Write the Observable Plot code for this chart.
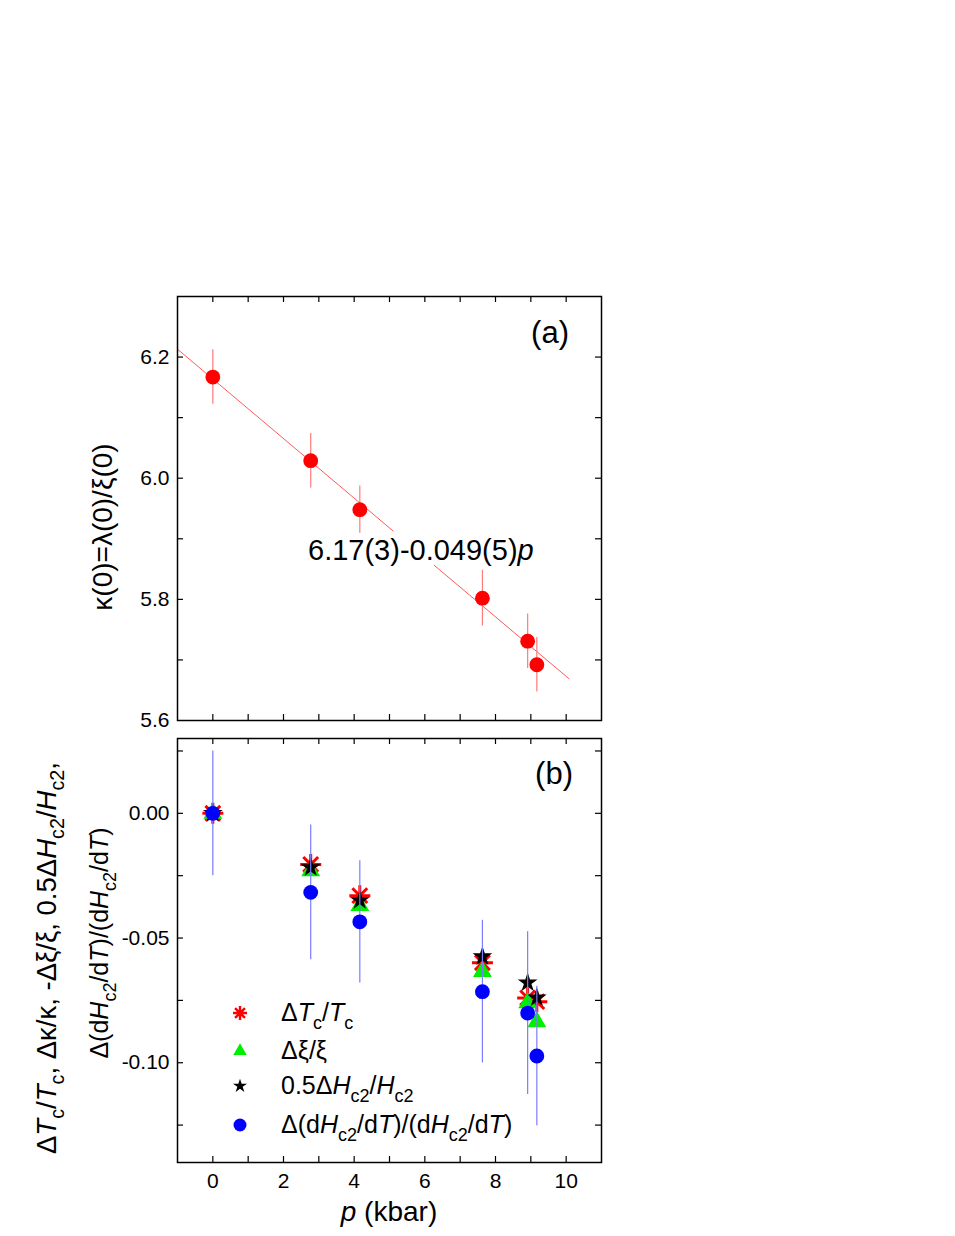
<!DOCTYPE html>
<html><head><meta charset="utf-8">
<script src="https://cdn.jsdelivr.net/npm/d3@7"></script>
<script src="https://cdn.jsdelivr.net/npm/@observablehq/plot@0.6"></script>
<style>
body{margin:0;background:#fff;}
#wrap{position:relative;width:955px;height:1236px;background:#fff;}
#wrap svg{position:absolute;left:0;}
</style></head><body><div id="wrap"></div>
<script>
// ---------- data ----------
const pressure = [0, 2.77, 4.16, 7.63, 8.91, 9.17];
// panel (a)
const kappa = [6.167, 6.029, 5.948, 5.802, 5.731, 5.692];
const kappaErr = [0.045, 0.045, 0.039, 0.046, 0.045, 0.045];
const fitSegment1P = [-1, 5.1];
const fitSegment1K = [6.213, 5.913];
const fitSegment2P = [6.27, 10.08];
const fitSegment2K = [5.856, 5.669];
// panel (b)
const dTcTc = [0, -0.0205, -0.0330, -0.0599, -0.0740, -0.0755];
const dXiXi = [0, -0.0230, -0.0370, -0.0634, -0.0760, -0.0836];
const halfdHc2 = [0, -0.0217, -0.0349, -0.0574, -0.0679, -0.0739];
const dSlope = [0, -0.0317, -0.0435, -0.0715, -0.0801, -0.0973];
const dSlopeErr = [0.025, 0.027, 0.0245, 0.0286, 0.0326, 0.028];
// ticks
const xMinorTicks = [0,1,2,3,4,5,6,7,8,9,10];
const xTickLabels = [0,2,4,6,8,10];
const yTicksA = [5.7,5.8,5.9,6.0,6.1,6.2];
const yTickLabelsA = [5.6,5.8,6.0,6.2];
const yTicksB = [0.025,0,-0.025,-0.05,-0.075,-0.1,-0.125];
const yTickLabelsB = [0,-0.05,-0.1];

// ---------- helpers ----------
const FONT = '"Liberation Sans", Arial, Helvetica, sans-serif';
const FW = 424, TICK = 6, IN = FW - TICK;
const asterisk8 = {
  draw(ctx, size) {
    const r = Math.sqrt(size / Math.PI);
    const d = r * Math.SQRT1_2;
    ctx.moveTo(-r, 0); ctx.lineTo(r, 0);
    ctx.moveTo(0, -r); ctx.lineTo(0, r);
    ctx.moveTo(-d, -d); ctx.lineTo(d, d);
    ctx.moveTo(-d, d); ctx.lineTo(d, -d);
  }
};
function frameTicks(xt, yt) {
  return [
    Plot.tickX(xt, {x: d => d, insetTop: IN, stroke: "black", strokeWidth: 1.2}),
    Plot.tickX(xt, {x: d => d, insetBottom: IN, stroke: "black", strokeWidth: 1.2}),
    Plot.tickY(yt, {y: d => d, insetRight: IN, stroke: "black", strokeWidth: 1.2}),
    Plot.tickY(yt, {y: d => d, insetLeft: IN, stroke: "black", strokeWidth: 1.2}),
    Plot.frame({stroke: "black", strokeWidth: 1.5})
  ];
}
function rich(sel, parts, {x, y, anchor = "start", size = 24, rotate = 0}) {
  const g = sel.append("g").attr("transform", `translate(${x},${y}) rotate(${rotate})`);
  const t = g.append("text").attr("text-anchor", anchor).attr("font-size", size)
    .attr("font-family", FONT).attr("fill", "black");
  let shift = 0;
  for (const [s, kind] of parts) {
    const sub = kind === "sub";
    const target = sub ? size * 0.3 : 0;
    const ts = t.append("tspan").text(s).attr("dy", target - shift);
    shift = target;
    if (sub) ts.attr("font-size", size * 0.72);
    if (kind === "i") ts.attr("font-style", "italic");
  }
  return g;
}

const wrap = document.getElementById("wrap");
const style = {fontFamily: FONT, fontSize: "21px", color: "black", background: "transparent", overflow: "visible"};

// ---------- panel (a) ----------
const dataA = pressure.map((p, i) => ({p, k: kappa[i], e: kappaErr[i]}));
const fitData = [
  ...fitSegment1P.map((p, i) => ({p, k: fitSegment1K[i], s: 1})),
  ...fitSegment2P.map((p, i) => ({p, k: fitSegment2K[i], s: 2}))
];
const plotA = Plot.plot({
  width: 955, height: 729,
  marginLeft: 177, marginRight: 354, marginTop: 296, marginBottom: 9,
  style,
  x: {domain: [-1, 11], axis: null},
  y: {domain: [5.6, 6.3], axis: null},
  marks: [
    Plot.line(fitData, {x: "p", y: "k", z: "s", stroke: "#ff5a5a", strokeWidth: 1}),
    Plot.ruleX(dataA, {x: "p", y1: d => d.k - d.e, y2: d => d.k + d.e, stroke: "#ff7a7a", strokeWidth: 1.2}),
    Plot.dot(dataA, {x: "p", y: "k", r: 7.4, fill: "#ff0000", stroke: "none"}),
    ...frameTicks(xMinorTicks, yTicksA),
    Plot.axisY(yTickLabelsA, {anchor: "left", tickSize: 0, tickPadding: 8, tickFormat: d => d.toFixed(1), label: null, fontSize: 21})
  ]
});
plotA.style.top = "0px";
wrap.appendChild(plotA);
{
  const svg = d3.select(plotA);
  rich(svg, [["κ(0)=λ(0)/ξ(0)"]], {x: 112, y: 527, anchor: "middle", size: 28, rotate: -90});
  rich(svg, [["(a)"]], {x: 569, y: 343, anchor: "end", size: 31});
  rich(svg, [["6.17(3)-0.049(5)"], ["p", "i"]], {x: 308, y: 560, anchor: "start", size: 29});
}

// ---------- panel (b) ----------
const dataB = pressure.map((p, i) => ({p, tc: dTcTc[i], xi: dXiXi[i], h: halfdHc2[i], s: dSlope[i], e: dSlopeErr[i]}));
const plotB = Plot.plot({
  width: 955, height: 507,
  marginLeft: 177, marginRight: 354, marginTop: 9, marginBottom: 74,
  style,
  x: {domain: [-1, 11], axis: null},
  y: {domain: [-0.14, 0.03], axis: null},
  marks: [
    Plot.dot(dataB, {x: "p", y: "tc", symbol: asterisk8, r: 10.5, stroke: "#ff0000", strokeWidth: 3, fill: "none"}),
    Plot.dot(dataB, {x: "p", y: "xi", symbol: "triangle", r: 7, fill: "#00ee00", stroke: "none"}),
    Plot.dot(dataB, {x: "p", y: "h", symbol: "star", r: 6.2, fill: "black", stroke: "none"}),
    Plot.ruleX(dataB, {x: "p", y1: d => d.s - d.e, y2: d => d.s + d.e, stroke: "#7b7bff", strokeWidth: 1.2}),
    Plot.dot(dataB, {x: "p", y: "s", r: 7.4, fill: "#0000ff", stroke: "none"}),
    ...frameTicks(xMinorTicks, yTicksB),
    Plot.axisY(yTickLabelsB, {anchor: "left", tickSize: 0, tickPadding: 8, tickFormat: d => d.toFixed(2), label: null, fontSize: 21}),
    Plot.axisX(xTickLabels, {anchor: "bottom", tickSize: 0, tickPadding: 11, label: null, fontSize: 21})
  ]
});
plotB.style.top = "729px";
wrap.appendChild(plotB);
{
  const svg = d3.select(plotB);
  const OY = 729; // page offset of this svg
  rich(svg, [["(b)"]], {x: 573, y: 784 - OY, anchor: "end", size: 31});
  rich(svg, [["p", "i"], [" (kbar)"]], {x: 389, y: 1221 - OY, anchor: "middle", size: 28});
  rich(svg, [["Δ"], ["T", "i"], ["c", "sub"], ["/"], ["T", "i"], ["c", "sub"], [", Δκ/κ, -Δξ/ξ, 0.5Δ"], ["H", "i"], ["c2", "sub"], ["/"], ["H", "i"], ["c2", "sub"], [","]],
       {x: 56, y: 958 - OY, anchor: "middle", size: 27.5, rotate: -90});
  const slopeLabel = [["Δ(d"], ["H", "i"], ["c2", "sub"], ["/d"], ["T", "i"], [")/(d"], ["H", "i"], ["c2", "sub"], ["/d"], ["T", "i"], [")"]];
  rich(svg, slopeLabel, {x: 108, y: 943 - OY, anchor: "middle", size: 25, rotate: -90});
  // legend
  const legend = [
    {sym: asterisk8, size: Math.PI * 7 * 7, stroke: "#ff0000", fill: "none", y: 1013,
     label: [["Δ"], ["T", "i"], ["c", "sub"], ["/"], ["T", "i"], ["c", "sub"]]},
    {sym: d3.symbolTriangle, size: Math.PI * 5 * 5, fill: "#00ee00", y: 1051, label: [["Δξ/ξ"]]},
    {sym: d3.symbolStar, size: Math.PI * 4.4 * 4.4, fill: "black", y: 1086,
     label: [["0.5Δ"], ["H", "i"], ["c2", "sub"], ["/"], ["H", "i"], ["c2", "sub"]]},
    {sym: d3.symbolCircle, size: Math.PI * 6.5 * 6.5, fill: "#0000ff", y: 1125, label: slopeLabel}
  ];
  for (const L of legend) {
    svg.append("path").attr("transform", `translate(240,${L.y - OY})`)
      .attr("d", d3.symbol(L.sym, L.size)())
      .attr("fill", L.fill).attr("stroke", L.stroke || "none").attr("stroke-width", 2.4);
    rich(svg, L.label, {x: 281, y: L.y - OY + 8, anchor: "start", size: 25});
  }
}
</script></body></html>
